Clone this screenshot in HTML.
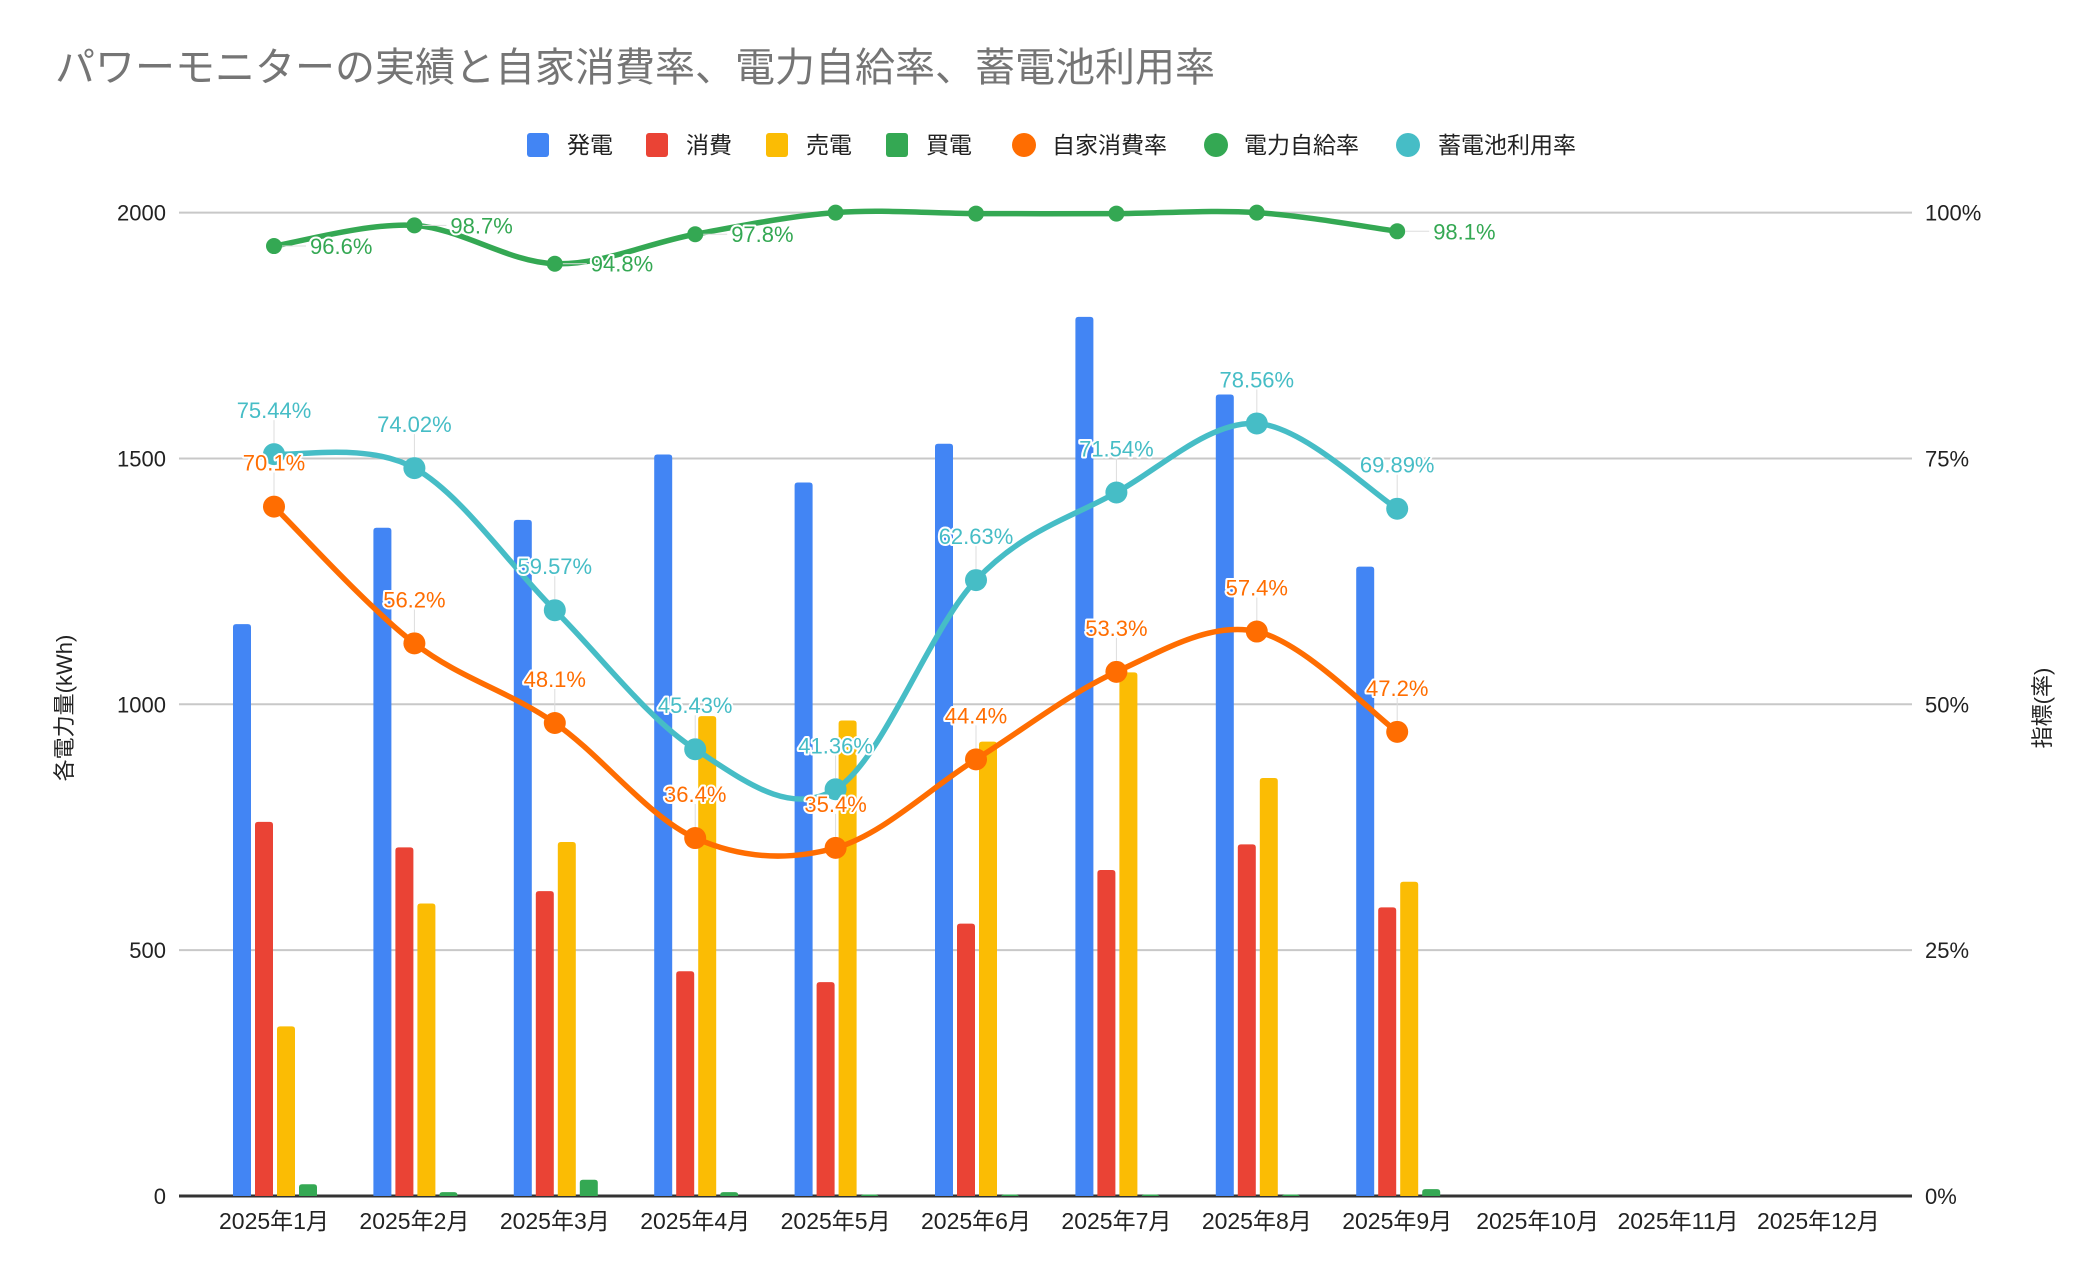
<!DOCTYPE html>
<html><head><meta charset="utf-8">
<style>
html,body{margin:0;padding:0;background:#fff;}
svg{display:block;font-family:"Liberation Sans","Noto Sans CJK JP",sans-serif;}
</style></head>
<body>
<svg id="c" width="2096" height="1282" viewBox="0 0 2096 1282" xmlns="http://www.w3.org/2000/svg">
<text x="55" y="81" font-size="40" fill="#757575">パワーモニターの実績と自家消費率、電力自給率、蓄電池利用率</text>
<g font-size="23" fill="#222">
<rect x="527" y="133" width="22" height="24" rx="3" fill="#4285F4"/><text x="567" y="153">発電</text>
<rect x="646" y="133" width="22" height="24" rx="3" fill="#EA4335"/><text x="686" y="153">消費</text>
<rect x="766" y="133" width="22" height="24" rx="3" fill="#FBBC04"/><text x="806" y="153">売電</text>
<rect x="886" y="133" width="22" height="24" rx="3" fill="#34A853"/><text x="926" y="153">買電</text>
<circle cx="1024" cy="145" r="12" fill="#FF6D01"/><text x="1052" y="153">自家消費率</text>
<circle cx="1216" cy="145" r="12" fill="#34A853"/><text x="1244" y="153">電力自給率</text>
<circle cx="1408" cy="145" r="12" fill="#46BDC6"/><text x="1438" y="153">蓄電池利用率</text>
</g>
<g id="grid"></g>
<g id="bars"></g>
<g id="lines"></g>
<g id="labels"></g>
<text transform="translate(72,708) rotate(-90)" text-anchor="middle" font-size="22" fill="#222">各電力量(kWh)</text>
<text transform="translate(2050,708) rotate(-90)" text-anchor="middle" font-size="22" fill="#222">指標(率)</text>
</svg>
<script>
var NS="http://www.w3.org/2000/svg";
function el(p,t,a,txt){var e=document.createElementNS(NS,t);for(var k in a)e.setAttribute(k,a[k]);if(txt!=null)e.textContent=txt;document.getElementById(p).appendChild(e);return e;}
var y0=1196,yT=212.6,L=179,R=1912;
function Y(v){return y0-(y0-yT)*v/2000;}
function YP(p){return y0-(y0-yT)*p/100;}
function X(i){return 274+140.4*i;}
var lt=["0","500","1000","1500","2000"],rt=["0%","25%","50%","75%","100%"];
for(var i=0;i<5;i++){var y=Y(i*500);
 if(i>0)el("grid","line",{x1:L,x2:R,y1:y,y2:y,stroke:"#c8c8c8","stroke-width":2});
 el("grid","text",{x:166,y:y+8,"text-anchor":"end","font-size":22,fill:"#222"},lt[i]);
 el("grid","text",{x:1925,y:y+8,"font-size":22,fill:"#222"},rt[i]);}
el("grid","line",{x1:L,x2:R,y1:y0,y2:y0,stroke:"#333","stroke-width":3});
for(var i=0;i<12;i++)el("grid","text",{x:X(i),y:1229,"text-anchor":"middle","font-size":23,fill:"#222"},"2025年"+(i+1)+"月");
var B=[[1163,761,345,24],[1359,709,595,8],[1375,620,720,33],[1508,457,976,8],[1451,435,967,3],[1530,554,924,3],[1788,663,1065,3],[1630,715,850,3],[1280,587,639,14]];
var cols=["#4285F4","#EA4335","#FBBC04","#34A853"],off=[-41,-19,3,25];
B.forEach(function(b,i){b.forEach(function(v,j){var t=Y(v);el("bars","path",{d:"M"+(X(i)+off[j])+","+y0+"V"+(t+3)+"q0,-3 3,-3h12q3,0 3,3V"+y0+"Z",fill:cols[j]});});});
function curve(pts){var d="M"+pts[0][0]+","+pts[0][1];for(var i=0;i<pts.length-1;i++){var p0=pts[i-1]||pts[i],p1=pts[i],p2=pts[i+1],p3=pts[i+2]||p2;
 d+="C"+(p1[0]+(p2[0]-p0[0])/6)+","+(p1[1]+(p2[1]-p0[1])/6)+" "+(p2[0]-(p3[0]-p1[0])/6)+","+(p2[1]-(p3[1]-p1[1])/6)+" "+p2[0]+","+p2[1];}return d;}
var S=[
 {c:"#34A853",v:[96.6,98.7,94.8,97.8,100,99.9,99.9,100,98.1],r:8,lab:[1,1,1,1,0,0,0,0,1],side:1},
 {c:"#FF6D01",v:[70.1,56.2,48.1,36.4,35.4,44.4,53.3,57.4,47.2],r:11,lab:[1,1,1,1,1,1,1,1,1]},
 {c:"#46BDC6",v:[75.44,74.02,59.57,45.43,41.36,62.63,71.54,78.56,69.89],r:11,lab:[1,1,1,1,1,1,1,1,1],pct:2}];
S.forEach(function(s){var pts=s.v.map(function(p,i){return [X(i),YP(p)];});
 el("lines","path",{d:curve(pts),fill:"none",stroke:s.c,"stroke-width":5.5,"stroke-linejoin":"round"});
 pts.forEach(function(p,i){el("lines","circle",{cx:p[0],cy:p[1],r:s.r,fill:s.c});
  if(!s.lab[i])return;
  var txt=(s.pct?s.v[i].toFixed(2):s.v[i].toFixed(1))+"%";
  var a={fill:s.c,"font-size":22,stroke:"#fff","stroke-width":4,"paint-order":"stroke","stroke-linejoin":"round"};
  if(s.side){el("labels","line",{x1:p[0]+s.r,x2:p[0]+32,y1:p[1],y2:p[1],stroke:"#ddd","stroke-width":1});a.x=p[0]+36;a.y=p[1]+8;}
  else{el("labels","line",{x1:p[0],x2:p[0],y1:p[1]-s.r,y2:p[1]-34,stroke:"#ddd","stroke-width":1});a.x=p[0];a.y=p[1]-36;a["text-anchor"]="middle";}
  el("labels","text",a,txt);});});
</script>
</body></html>
